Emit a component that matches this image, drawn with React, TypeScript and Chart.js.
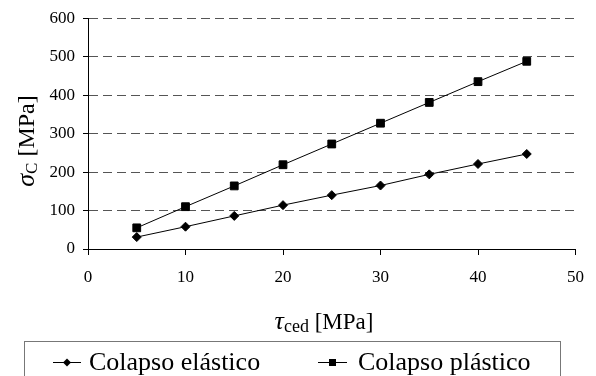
import React, { useEffect, useRef } from "react";
import { Chart, registerables } from "chart.js";

Chart.register(...registerables);

const xValues = [5, 10, 15, 20, 25, 30, 35, 40, 45];
const elastico = [31, 58, 86, 114, 140, 165, 194, 221, 247];
const plastico = [55, 110, 164, 219, 273, 327, 381, 435, 488];
const seriesNames = ["Colapso elástico", "Colapso plástico"];
const xAxisRange = [0, 50, 10];
const yAxisRange = [0, 600, 100];

const serif = '"Liberation Serif", "Times New Roman", Times, serif';

type Run = { t: string; f: string; dy: number };

function measureRuns(ctx: CanvasRenderingContext2D, runs: Run[]) {
  let w = 0;
  for (const r of runs) {
    ctx.font = r.f;
    w += ctx.measureText(r.t).width;
  }
  return w;
}

function drawRuns(ctx: CanvasRenderingContext2D, runs: Run[], x: number, y: number) {
  let cx = x;
  for (const r of runs) {
    ctx.font = r.f;
    ctx.fillText(r.t, cx, y + r.dy);
    cx += ctx.measureText(r.t).width;
  }
}

function drawDiamond(ctx: CanvasRenderingContext2D, x: number, y: number, r: number) {
  ctx.beginPath();
  ctx.moveTo(x, y - r);
  ctx.lineTo(x + r, y);
  ctx.lineTo(x, y + r);
  ctx.lineTo(x - r, y);
  ctx.closePath();
  ctx.fill();
}

const annotations = {
  id: "annotations",
  afterDraw(chart: any) {
    const ctx: CanvasRenderingContext2D = chart.ctx;
    ctx.save();
    ctx.fillStyle = "#000";
    ctx.textAlign = "left";
    ctx.textBaseline = "alphabetic";

    // Y title
    const yRuns: Run[] = [
      { t: "σ", f: `italic 26px ${serif}`, dy: 0 },
      { t: "C", f: `17px ${serif}`, dy: 3 },
      { t: " [MPa]", f: `24px ${serif}`, dy: 0 },
    ];
    const yw = measureRuns(ctx, yRuns);
    ctx.save();
    ctx.translate(34, 141);
    ctx.rotate(-Math.PI / 2);
    drawRuns(ctx, yRuns, -yw / 2, 0);
    ctx.restore();

    // X title
    const xRuns: Run[] = [
      { t: "τ", f: `italic 26px ${serif}`, dy: 0 },
      { t: "ced", f: `18px ${serif}`, dy: 3 },
      { t: " [MPa]", f: `23px ${serif}`, dy: 0 },
    ];
    const xw = measureRuns(ctx, xRuns);
    drawRuns(ctx, xRuns, 324 - xw / 2, 329);

    // Legend
    ctx.strokeStyle = "#777";
    ctx.lineWidth = 1;
    ctx.strokeRect(24.5, 341.5, 536, 60);

    ctx.strokeStyle = "#000";
    ctx.beginPath();
    ctx.moveTo(53, 362.5);
    ctx.lineTo(81, 362.5);
    ctx.stroke();
    drawDiamond(ctx, 67, 362.5, 4);

    ctx.beginPath();
    ctx.moveTo(318, 362.5);
    ctx.lineTo(347, 362.5);
    ctx.stroke();
    ctx.fillRect(329, 359, 7, 7);

    ctx.font = `26px ${serif}`;
    ctx.fillText(seriesNames[0], 89, 370);
    ctx.fillText(seriesNames[1], 358, 370);

    ctx.restore();
  },
};

export default function App() {
  const ref = useRef<HTMLCanvasElement | null>(null);

  useEffect(() => {
    if (!ref.current) return;
    const tickFont = { family: serif, size: 17 };
    const chart = new Chart(ref.current, {
      type: "line",
      data: {
        datasets: [
          {
            label: seriesNames[0],
            data: xValues.map((x, i) => ({ x, y: elastico[i] })),
            borderColor: "#000",
            backgroundColor: "#000",
            borderWidth: 1,
            pointStyle: "rectRot",
            pointRadius: 4.5,
            pointBorderWidth: 1,
            pointBackgroundColor: "#000",
            pointBorderColor: "#000",
            tension: 0,
          },
          {
            label: seriesNames[1],
            data: xValues.map((x, i) => ({ x, y: plastico[i] })),
            borderColor: "#000",
            backgroundColor: "#000",
            borderWidth: 1,
            pointStyle: "rect",
            pointRadius: 5.5,
            pointBorderWidth: 1,
            pointBackgroundColor: "#000",
            pointBorderColor: "#000",
            tension: 0,
          },
        ],
      },
      options: {
        animation: false,
        responsive: false,
        maintainAspectRatio: false,
        layout: { padding: { top: 16, right: 17, left: 0, bottom: 0 } },
        plugins: {
          legend: { display: false },
          tooltip: { enabled: false },
        },
        scales: {
          x: {
            type: "linear",
            min: xAxisRange[0],
            max: xAxisRange[1],
            ticks: {
              stepSize: xAxisRange[2],
              color: "#000",
              font: tickFont,
              padding: 12,
              maxRotation: 0,
            },
            grid: {
              drawOnChartArea: false,
              drawTicks: true,
              tickLength: 6,
              tickColor: "#000",
            },
            border: { display: true, color: "#000", width: 1 },
            afterFit: (s: any) => {
              s.height = 127;
            },
          },
          y: {
            min: yAxisRange[0],
            max: yAxisRange[1],
            ticks: {
              stepSize: yAxisRange[2],
              color: "#000",
              font: tickFont,
              padding: 8,
            },
            grid: {
              color: (c: any) => (c.tick && c.tick.value === 0 ? "rgba(0,0,0,0)" : "#555"),
              lineWidth: 1,
              drawTicks: true,
              tickLength: 5,
              tickColor: "#000",
            },
            border: { display: true, color: "#000", width: 1, dash: [9, 5] },
            afterFit: (s: any) => {
              s.width = 88;
            },
          },
        },
      },
      plugins: [annotations],
    } as any);
    return () => chart.destroy();
  }, []);

  return (
    <div style={{ position: "fixed", left: 0, top: 0, width: 596, height: 376, background: "#fff" }}>
      <canvas ref={ref} width={596} height={376} style={{ display: "block" }} />
    </div>
  );
}
